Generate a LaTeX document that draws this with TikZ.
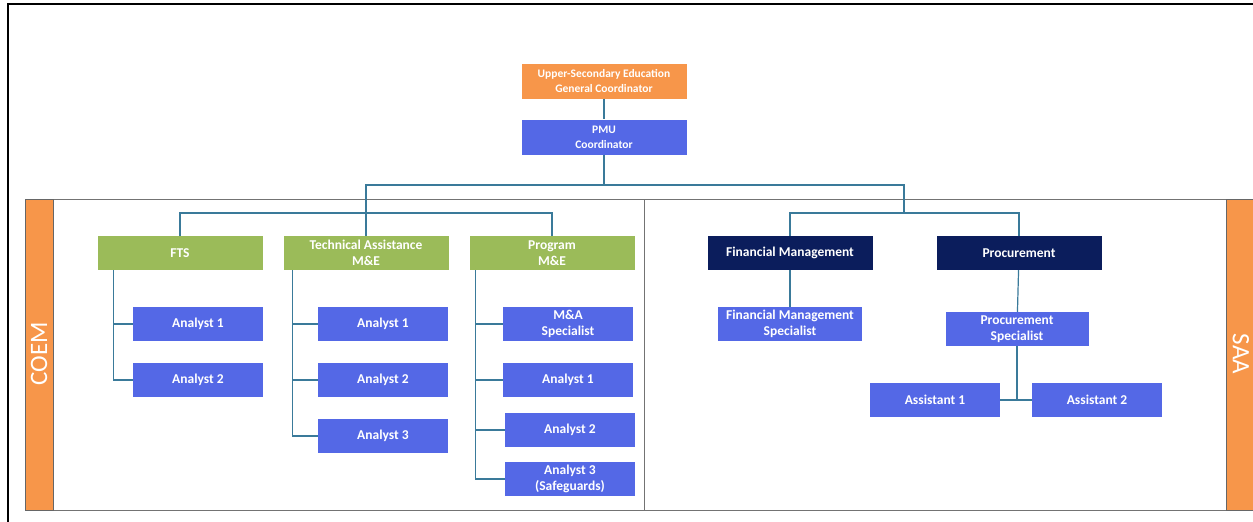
\documentclass[tikz,border=0pt]{standalone}
\usepackage{fontspec}
\setmainfont{Carlito}
\usetikzlibrary{positioning}

\definecolor{boxorange}{HTML}{F7964A}
\definecolor{boxgreen}{HTML}{9BBB59}
\definecolor{boxblue}{HTML}{5468E6}
\definecolor{boxnavy}{HTML}{0B1D5C}
\definecolor{linkblue}{HTML}{3A7A9A}

\begin{document}
\begin{tikzpicture}[x=1pt,y=-1pt,
  box/.style={rectangle,inner sep=1pt,align=center,text=white,
    font=\fontsize{13.5}{16.5}\selectfont\bfseries},
  head/.style={box,fill=boxorange,minimum width=165pt,minimum height=35pt,
    font=\fontsize{11.5}{15}\selectfont\bfseries},
  unit/.style={box,fill=boxgreen,minimum width=165pt,minimum height=34pt},
  dept/.style={box,fill=boxnavy,minimum width=165pt,minimum height=34pt},
  staff/.style={box,fill=boxblue,minimum width=130pt,minimum height=34pt},
  link/.style={draw=linkblue,line width=1.2pt},
  side/.style={fill=boxorange,draw=black!60,line width=0.6pt}]
\useasboundingbox (0,0) rectangle (1253,522);

% frame and panels
\draw[line width=1.6pt] (8,522) -- (8,4) -- (1253,4);
\draw[black!55,line width=0.8pt] (53,199) rectangle (1226,510);
\draw[black!55,line width=0.8pt] (644,199) -- (644,510);
\path[side] (25,199) rectangle (53,510);
\path[side] (1226,199) rectangle (1253,510);
\node[rotate=90,text=white,font=\fontsize{25}{28}\selectfont] (coem) at (39,354) {COEM};
\node[rotate=-90,text=white,font=\fontsize{25}{28}\selectfont] (saa) at (1241,354) {SAA};

% top
\node[head] (gc)  at (604,81)  {Upper-Secondary Education\\General Coordinator};
\node[head,fill=boxblue] (pmu) at (604,137) {PMU\\Coordinator};

% COEM side
\node[unit] (fts)  at (180,253) {FTS};
\node[unit] (ta)   at (366,253) {Technical Assistance\\M\&E};
\node[unit] (prog) at (552,253) {Program\\M\&E};

\node[staff] (fts_1) at (198,324) {Analyst 1};
\node[staff] (fts_2) at (198,380) {Analyst 2};

\node[staff] (ta_1) at (383,324) {Analyst 1};
\node[staff] (ta_2) at (383,380) {Analyst 2};
\node[staff] (ta_3) at (383,436) {Analyst 3};

\node[staff] (prog_1) at (568,324) {M\&A\\Specialist};
\node[staff] (prog_2) at (568,380) {Analyst 1};
\node[staff] (prog_3) at (570,430) {Analyst 2};
\node[staff] (prog_4) at (570,479) {Analyst 3\\(Safeguards)};

% SAA side
\node[dept] (fm)   at (790,253)  {Financial Management};
\node[dept] (proc) at (1019,253) {Procurement};

\node[staff,minimum width=144pt] (fm_1) at (790,324)  {Financial Management\\Specialist};
\node[staff,minimum width=143pt] (ps)   at (1017,329) {Procurement\\Specialist};
\node[staff] (as_1) at (935,400)  {Assistant 1};
\node[staff] (as_2) at (1097,400) {Assistant 2};

% links
\coordinate (bus) at (0,185);
\coordinate (coem_hub) at (366,213);
\coordinate (saa_hub)  at (904,213);
\draw[link] (gc) -- (pmu);
\draw[link] (pmu) -- (pmu |- bus) -| (coem_hub) -- (ta);
\draw[link] (pmu |- bus) -| (saa_hub);
\draw[link] (fts) |- (coem_hub) -| (prog);
\draw[link] (fm) |- (saa_hub) -| (proc);

\draw[link] ([xshift=16pt]fts.south west) |- (fts_2);
\draw[link] (fts_1) -| ([xshift=16pt]fts.south west);
\draw[link] ([xshift=9pt]ta.south west) |- (ta_3);
\draw[link] (ta_1) -| ([xshift=9pt]ta.south west);
\draw[link] (ta_2) -| ([xshift=9pt]ta.south west);
\draw[link] ([xshift=6pt]prog.south west) |- (prog_4);
\foreach \k in {1,2,3}
  \draw[link] (prog_\k) -| ([xshift=6pt]prog.south west);

\draw[link] (fm) -- (fm_1);
\draw[link] (proc) -- (ps);
\draw[link] (ps) -- (ps |- as_1);
\draw[link] (as_1) -- (as_2);
\end{tikzpicture}
\end{document}
